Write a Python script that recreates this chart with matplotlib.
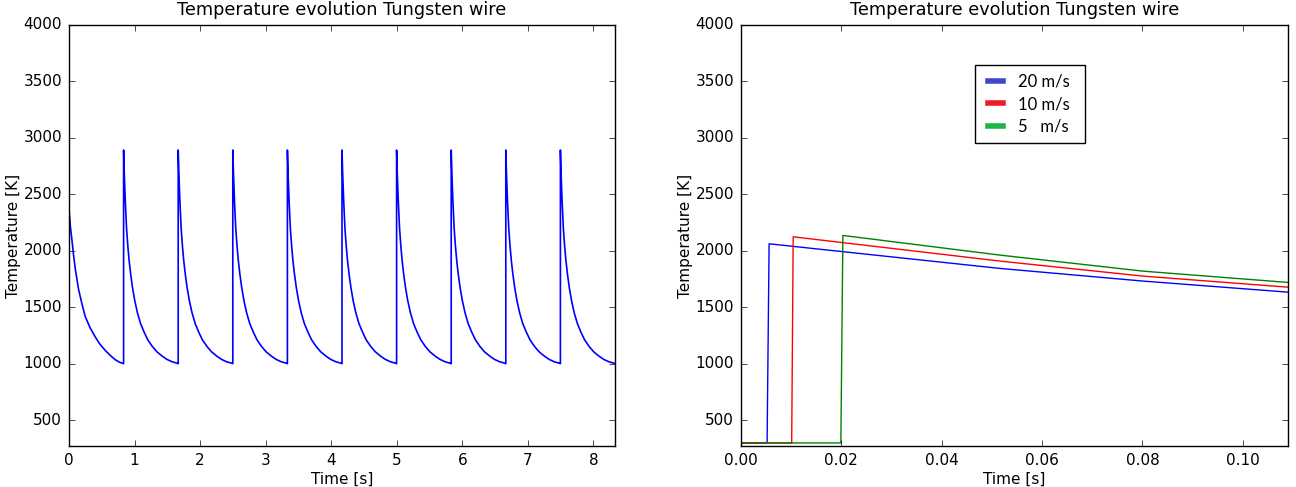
import matplotlib
matplotlib.use("Agg")
import matplotlib.pyplot as plt
from matplotlib.lines import Line2D

# ---------------- data ----------------
# Left panel: periodic heating of the wire
spike_times = [0.833, 1.666, 2.499, 3.332, 4.165, 4.998, 5.831, 6.664, 7.497]
cycle_dt = [0.0, 0.010, 0.026, 0.045, 0.065, 0.086, 0.110, 0.136, 0.170, 0.212,
            0.260, 0.314, 0.370, 0.440, 0.510, 0.590, 0.660, 0.742, 0.818, 0.833]
cycle_T = [2893, 2690, 2440, 2200, 2040, 1905, 1785, 1675, 1560, 1450,
           1355, 1280, 1212, 1153, 1106, 1068, 1040, 1018, 1006, 1002]
first_t = [0.0, 0.020, 0.045, 0.070, 0.096, 0.146, 0.200, 0.247, 0.320, 0.399,
           0.470, 0.550, 0.630, 0.702, 0.770, 0.829]
first_T = [2376, 2220, 2096, 1960, 1840, 1660, 1525, 1420, 1322, 1240,
           1176, 1121, 1075, 1038, 1015, 1002]
left_xmax = 8.33

# Right panel: single heating at different wire speeds
speed_labels = ["20 m/s", "10 m/s", "5   m/s"]
t_blue = [0.0, 0.0052, 0.0056, 0.0516, 0.0801, 0.109]
T_blue = [300, 300, 2063, 1845, 1733, 1635]
t_red = [0.0, 0.0101, 0.0104, 0.0516, 0.0801, 0.109]
T_red = [300, 300, 2125, 1910, 1777, 1679]
t_green = [0.0, 0.0199, 0.0203, 0.0516, 0.0801, 0.109]
T_green = [300, 300, 2137, 1963, 1821, 1721]

title = "Temperature evolution Tungsten wire"

# ---------------- build left series ----------------
lt = list(first_t)
lT = list(first_T)
for s in spike_times:
    lt.append(s)
    lT.append(lT[-1])
    for dt, T in zip(cycle_dt, cycle_T):
        lt.append(s + dt)
        lT.append(T)

# ---------------- plot ----------------
plt.style.use("classic")
plt.rcParams["font.family"] = ["DejaVu Sans"]
fig = plt.figure(figsize=(12.96, 4.87), dpi=100, facecolor="white")

ax1 = fig.add_axes([69 / 1296, 41 / 487, 546 / 1296, 421 / 487])
ax2 = fig.add_axes([741 / 1296, 41 / 487, 547 / 1296, 421 / 487])

ax1.plot(lt, lT, color="#0000ff", lw=1.2)
ax1.set_xlim(0, left_xmax)
ax1.set_ylim(273, 4000)
ax1.set_xticks(range(0, 9))
ax1.set_yticks(range(500, 4001, 500))

ax2.plot(t_blue, T_blue, color="#0000ff", lw=1.0)
ax2.plot(t_red, T_red, color="#ff0000", lw=1.0)
ax2.plot(t_green, T_green, color="#008000", lw=1.0)
ax2.set_xlim(0, 0.109)
ax2.set_ylim(273, 4000)
ax2.set_xticks([0.0, 0.02, 0.04, 0.06, 0.08, 0.10])
ax2.set_xticklabels(["0.00", "0.02", "0.04", "0.06", "0.08", "0.10"])
ax2.set_yticks(range(500, 4001, 500))

for ax in (ax1, ax2):
    ax.set_facecolor("white")
    ax.set_title(title, fontsize=12.7, pad=7)
    ax.set_xlabel("Time [s]", fontsize=11)
    ax.set_ylabel("Temperature [K]", fontsize=11)
    ax.xaxis.set_label_coords(0.5, -0.062)
    ax.yaxis.set_label_coords(-0.087, 0.5)
    ax.tick_params(labelsize=11, direction="in", top=True, right=True)
    ax.tick_params(axis="y", pad=5)
    ax.tick_params(axis="x", pad=5)
    for sp in ax.spines.values():
        sp.set_linewidth(1.0)

handles = [Line2D([], [], color=c, lw=4) for c in ("#3f48cc", "#ed1c24", "#22b14c")]
leg = ax2.legend(handles, speed_labels, loc="upper left", mode="expand",
                 bbox_to_anchor=((975 - 741) / 547, (446 - 141) / 421,
                                 110 / 547, 76 / 421),
                 borderaxespad=0.0, frameon=True, fancybox=False, shadow=False,
                 handlelength=1.5, borderpad=0.5, labelspacing=0.4,
                 handletextpad=0.6, prop={"family": "Lato", "size": 12})
leg.get_frame().set_edgecolor("black")
leg.get_frame().set_linewidth(1.0)

fig.savefig("out.png", dpi=100, facecolor="white")
